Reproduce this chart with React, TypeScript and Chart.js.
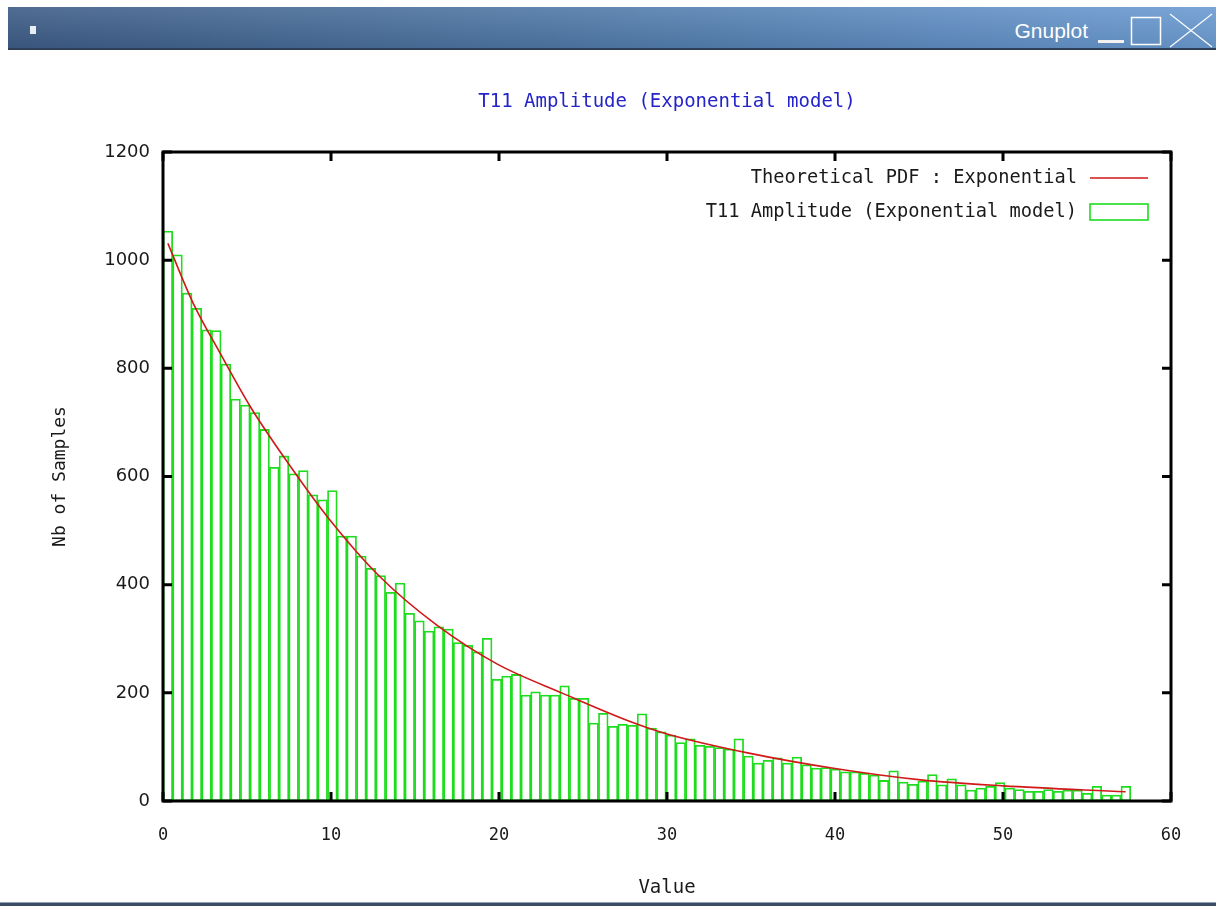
import React, { useEffect, useRef } from 'react';
import { Chart, registerables } from 'chart.js';

Chart.register(...registerables);

// ---- data ----
const TITLE = 'T11 Amplitude (Exponential model)';
const LEGEND_PDF = 'Theoretical PDF : Exponential';
const LEGEND_HIST = 'T11 Amplitude (Exponential model)';
const X_LABEL = 'Value';
const Y_LABEL = 'Nb of Samples';

const BIN_START = 0;
const BIN_WIDTH = 0.576;
const COUNTS = [
  1054, 1010, 939, 911, 871, 870, 808, 743, 732, 718,
  687, 617, 638, 605, 611, 566, 557, 574, 490, 490,
  453, 430, 417, 386, 403, 347, 333, 314, 322, 318,
  293, 288, 276, 301, 225, 231, 234, 196, 202, 196,
  196, 213, 190, 190, 144, 162, 138, 142, 140, 161,
  135, 128, 122, 108, 115, 103, 101, 99, 96, 115,
  83, 70, 75, 80, 70, 81, 67, 61, 62, 59,
  54, 54, 51, 48, 38, 56, 35, 31, 37, 49,
  30, 41, 30, 20, 24, 27, 34, 24, 21, 18,
  18, 21, 18, 20, 20, 14, 27, 11, 11, 27,
];

const PDF_X = [0.29, 1.8, 3.4, 5.2, 7.6, 9.9, 12.9, 16.3, 19.9, 23.8, 27.8, 30, 34.8, 40, 45.1, 50, 57.3];
const PDF_Y = [1031, 920, 828, 729, 618, 521, 415, 325, 253, 199, 147, 124, 89, 60, 39, 28, 17];

const X_TICKS = [0, 10, 20, 30, 40, 50, 60];
const Y_TICKS = [0, 200, 400, 600, 800, 1000, 1200];

// ---- styles ----
const MONO = '"DejaVu Sans Mono", "Liberation Mono", monospace';
const SANS = '"DejaVu Sans", "Liberation Sans", sans-serif';
const GREEN = '#1edc1e';
const RED = '#d01818';
const BLUE = '#2424c8';
const TEXT = '#1a1a1a';

const framePlugin = {
  id: 'gnuframe',
  afterDatasetsDraw(chart: any) {
    const { ctx, chartArea: a, scales } = chart;
    const xs = scales.x;
    const ys = scales.y;
    const TL = 9;
    ctx.save();
    ctx.strokeStyle = '#000';
    ctx.lineWidth = 3;
    ctx.beginPath();
    for (const v of X_TICKS) {
      const px = xs.getPixelForValue(v);
      ctx.moveTo(px, a.bottom);
      ctx.lineTo(px, a.bottom - TL);
      ctx.moveTo(px, a.top);
      ctx.lineTo(px, a.top + TL);
    }
    for (const v of Y_TICKS) {
      const py = ys.getPixelForValue(v);
      ctx.moveTo(a.left, py);
      ctx.lineTo(a.left + TL, py);
      ctx.moveTo(a.right, py);
      ctx.lineTo(a.right - TL, py);
    }
    ctx.stroke();
    ctx.strokeRect(a.left, a.top, a.right - a.left, a.bottom - a.top);

    // legend (inside, top right)
    ctx.font = `18.7px ${MONO}`;
    ctx.fillStyle = TEXT;
    ctx.textAlign = 'right';
    ctx.textBaseline = 'middle';
    const tx = a.right - 94;
    const r1 = a.top + 26;
    const r2 = a.top + 60;
    ctx.fillText(LEGEND_PDF, tx, r1);
    ctx.fillText(LEGEND_HIST, tx, r2);
    ctx.strokeStyle = RED;
    ctx.lineWidth = 1.6;
    ctx.beginPath();
    ctx.moveTo(a.right - 81, r1);
    ctx.lineTo(a.right - 23, r1);
    ctx.stroke();
    ctx.strokeStyle = GREEN;
    ctx.lineWidth = 1.6;
    ctx.strokeRect(a.right - 81, r2 - 8, 58, 16);

    // title centred over the plot area
    ctx.font = `19px ${MONO}`;
    ctx.fillStyle = BLUE;
    ctx.textAlign = 'center';
    ctx.fillText(TITLE, (a.left + a.right) / 2, a.top - 50);
    ctx.restore();
  },
};

function GnuplotChart() {
  const ref = useRef<HTMLCanvasElement | null>(null);
  useEffect(() => {
    if (!ref.current) return;
    const chart = new Chart(ref.current, {
      type: 'bar',
      data: {
        datasets: [
          {
            type: 'line',
            label: LEGEND_PDF,
            data: PDF_X.map((x, i) => ({ x, y: PDF_Y[i] })),
            borderColor: RED,
            borderWidth: 1.6,
            pointRadius: 0,
            cubicInterpolationMode: 'monotone',
            order: 0,
          } as any,
          {
            type: 'bar',
            label: LEGEND_HIST,
            data: COUNTS.map((c, i) => ({ x: BIN_START + (i + 0.5) * BIN_WIDTH, y: c })),
            backgroundColor: 'rgba(255,255,255,0)',
            borderColor: GREEN,
            borderWidth: 1.1,
            borderSkipped: false,
            barPercentage: 1,
            categoryPercentage: 1,
            order: 1,
          } as any,
        ],
      },
      options: {
        animation: false,
        responsive: false,
        layout: { padding: { top: 102, right: 45, left: 0, bottom: 0 } },
        plugins: {
          legend: { display: false },
          tooltip: { enabled: false },
          title: { display: false },
        },
        scales: {
          x: {
            type: 'linear',
            min: 0,
            max: 60,
            offset: false,
            afterFit: (s: any) => {
              s.height = 101;
            },
            afterBuildTicks: (s: any) => {
              s.ticks = X_TICKS.map((v) => ({ value: v }));
            },
            grid: { display: false, drawTicks: false },
            border: { display: false },
            ticks: {
              font: { family: MONO, size: 17 },
              color: TEXT,
              padding: 24,
              maxRotation: 0,
              callback: (v: any) => String(v),
            },
            title: {
              display: true,
              text: X_LABEL,
              font: { family: MONO, size: 19 },
              color: TEXT,
              padding: { top: 0, bottom: 3 },
            },
          },
          y: {
            type: 'linear',
            min: 0,
            max: 1200,
            afterFit: (s: any) => {
              s.width = 163;
            },
            afterBuildTicks: (s: any) => {
              s.ticks = Y_TICKS.map((v) => ({ value: v }));
            },
            grid: { display: false, drawTicks: false },
            border: { display: false },
            ticks: {
              font: { family: SANS, size: 18 },
              color: TEXT,
              padding: 13,
              callback: (v: any) => String(v),
            },
            title: {
              display: true,
              text: Y_LABEL,
              font: { family: MONO, size: 18 },
              color: TEXT,
              padding: { top: 50, bottom: 0 },
            },
          },
        } as any,
      },
      plugins: [framePlugin],
    });
    return () => chart.destroy();
  }, []);
  return (
    <canvas
      ref={ref}
      width={1216}
      height={852}
      style={{ position: 'absolute', left: 0, top: 50, width: 1216, height: 852 }}
    />
  );
}

export default function App() {
  return (
    <div
      style={{
        position: 'absolute',
        left: 0,
        top: 0,
        width: 1216,
        height: 906,
        background: '#fff',
        overflow: 'hidden',
      }}
    >
      <div
        style={{
          position: 'absolute',
          left: 8,
          top: 7,
          width: 1208,
          height: 41,
          background:
            'linear-gradient(to bottom, rgba(255,255,255,0.10), rgba(0,0,0,0.08)), linear-gradient(to right, #3d5c86 0%, #4f78a6 45%, #5e8cc0 75%, #6b9bd2 100%)',
          borderBottom: '2px solid #2c3d55',
        }}
      >
        <div
          style={{
            position: 'absolute',
            left: 22,
            top: 19,
            width: 6,
            height: 8,
            background: '#e8eef6',
          }}
        />
        <div
          style={{
            position: 'absolute',
            right: 128,
            top: 12,
            fontFamily: '"Liberation Sans", Arial, sans-serif',
            fontSize: 21,
            lineHeight: '24px',
            color: '#fff',
          }}
        >
          Gnuplot
        </div>
        <svg
          style={{ position: 'absolute', left: 1082, top: 0 }}
          width={126}
          height={41}
        >
          <rect x={8} y={33} width={26} height={3} fill="#f2f2f2" />
          <rect x={41.5} y={10.5} width={29} height={27} fill="none" stroke="#fff" strokeWidth={1.5} />
          <line x1={80} y1={7} x2={122} y2={40} stroke="#fff" strokeWidth={1.2} />
          <line x1={80} y1={40} x2={122} y2={7} stroke="#fff" strokeWidth={1.2} />
        </svg>
      </div>
      <GnuplotChart />
      <div
        style={{
          position: 'absolute',
          left: 0,
          top: 902,
          width: 1216,
          height: 4,
          background: '#3a4b62',
          borderTop: '1px solid #8fa3bb',
        }}
      />
    </div>
  );
}
